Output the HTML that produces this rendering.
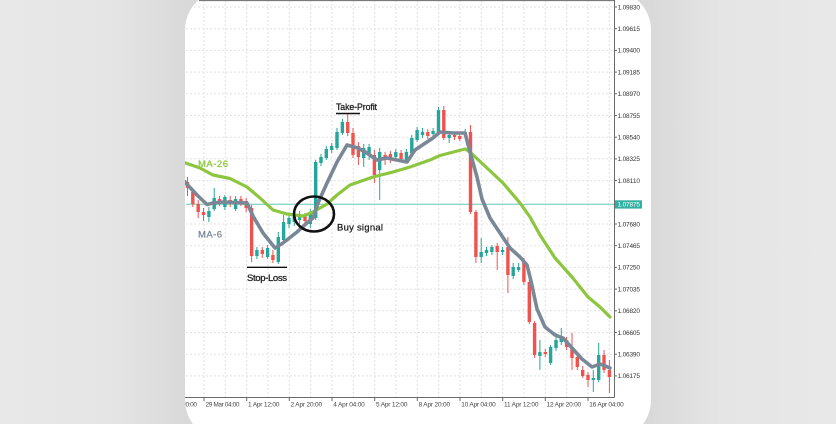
<!DOCTYPE html>
<html><head><meta charset="utf-8"><style>
html,body{margin:0;padding:0}
body{width:836px;height:424px;overflow:hidden;background:linear-gradient(to right,#e8e8e8 0,#e5e5e5 110px,#d9d9d9 185px,#d9d9d9 651px,#e5e5e5 720px,#e8e8e8 836px);position:relative}
svg{position:absolute;left:0;top:0}
</style></head><body>
<svg width="836" height="424" viewBox="0 0 836 424" xmlns="http://www.w3.org/2000/svg">
<defs><clipPath id="c"><rect x="185" y="-10" width="466" height="450" rx="40"/></clipPath></defs>
<rect x="185" y="-10" width="466" height="450" rx="40" fill="#fff"/>
<g clip-path="url(#c)">
<g stroke="#e2e2e2" stroke-width="1" stroke-dasharray="2,2">
<line x1="204" y1="0" x2="204" y2="397"/><line x1="225.3" y1="0" x2="225.3" y2="397"/><line x1="246.7" y1="0" x2="246.7" y2="397"/><line x1="268" y1="0" x2="268" y2="397"/><line x1="289.3" y1="0" x2="289.3" y2="397"/><line x1="310.7" y1="0" x2="310.7" y2="397"/><line x1="332" y1="0" x2="332" y2="397"/><line x1="353.3" y1="0" x2="353.3" y2="397"/><line x1="374.7" y1="0" x2="374.7" y2="397"/><line x1="396" y1="0" x2="396" y2="397"/><line x1="417.3" y1="0" x2="417.3" y2="397"/><line x1="438.7" y1="0" x2="438.7" y2="397"/><line x1="460" y1="0" x2="460" y2="397"/><line x1="481.3" y1="0" x2="481.3" y2="397"/><line x1="502.7" y1="0" x2="502.7" y2="397"/><line x1="524" y1="0" x2="524" y2="397"/><line x1="545.3" y1="0" x2="545.3" y2="397"/><line x1="566.7" y1="0" x2="566.7" y2="397"/><line x1="588" y1="0" x2="588" y2="397"/><line x1="609.3" y1="0" x2="609.3" y2="397"/>
<line x1="186" y1="7" x2="614" y2="7"/><line x1="186" y1="28.7" x2="614" y2="28.7"/><line x1="186" y1="50.4" x2="614" y2="50.4"/><line x1="186" y1="72.1" x2="614" y2="72.1"/><line x1="186" y1="93.8" x2="614" y2="93.8"/><line x1="186" y1="115.5" x2="614" y2="115.5"/><line x1="186" y1="137.2" x2="614" y2="137.2"/><line x1="186" y1="158.9" x2="614" y2="158.9"/><line x1="186" y1="180.6" x2="614" y2="180.6"/><line x1="186" y1="224" x2="614" y2="224"/><line x1="186" y1="245.7" x2="614" y2="245.7"/><line x1="186" y1="267.4" x2="614" y2="267.4"/><line x1="186" y1="289.1" x2="614" y2="289.1"/><line x1="186" y1="310.8" x2="614" y2="310.8"/><line x1="186" y1="332.5" x2="614" y2="332.5"/><line x1="186" y1="354.2" x2="614" y2="354.2"/><line x1="186" y1="375.9" x2="614" y2="375.9"/>
</g>
<line x1="186" y1="204.3" x2="614" y2="204.3" stroke="#8ed5cb" stroke-width="1.3"/>
<g stroke="#ef5350" stroke-width="1">
<line x1="187.5" y1="177" x2="187.5" y2="196"/><line x1="192.8" y1="188" x2="192.8" y2="207"/><line x1="198.2" y1="200" x2="198.2" y2="218"/><line x1="203.5" y1="208" x2="203.5" y2="221"/><line x1="219.5" y1="196" x2="219.5" y2="206"/><line x1="230.2" y1="196" x2="230.2" y2="207"/><line x1="240.9" y1="196" x2="240.9" y2="206"/><line x1="246.2" y1="198" x2="246.2" y2="212"/><line x1="251.6" y1="205" x2="251.6" y2="262"/><line x1="262.3" y1="247" x2="262.3" y2="258"/><line x1="272.9" y1="250" x2="272.9" y2="263"/><line x1="305" y1="213" x2="305" y2="224"/><line x1="347.7" y1="113" x2="347.7" y2="136"/><line x1="353" y1="128" x2="353" y2="158"/><line x1="358.4" y1="142" x2="358.4" y2="165"/><line x1="374.4" y1="150" x2="374.4" y2="183"/><line x1="385.1" y1="152" x2="385.1" y2="165"/><line x1="390.4" y1="151" x2="390.4" y2="163"/><line x1="401.1" y1="150" x2="401.1" y2="162"/><line x1="427.8" y1="129" x2="427.8" y2="139"/><line x1="443.8" y1="106" x2="443.8" y2="140"/><line x1="454.5" y1="133" x2="454.5" y2="140"/><line x1="459.8" y1="133" x2="459.8" y2="141"/><line x1="470.5" y1="125" x2="470.5" y2="214"/><line x1="475.9" y1="210" x2="475.9" y2="263"/><line x1="497.2" y1="243" x2="497.2" y2="270"/><line x1="507.9" y1="237" x2="507.9" y2="293"/><line x1="523.9" y1="258" x2="523.9" y2="285"/><line x1="529.3" y1="280" x2="529.3" y2="324"/><line x1="534.6" y1="321" x2="534.6" y2="358"/><line x1="545.3" y1="349" x2="545.3" y2="357"/><line x1="566.6" y1="337" x2="566.6" y2="350"/><line x1="572" y1="333" x2="572" y2="370"/><line x1="577.3" y1="354" x2="577.3" y2="370"/><line x1="582.7" y1="366" x2="582.7" y2="378"/><line x1="588" y1="372" x2="588" y2="387"/><line x1="604" y1="350" x2="604" y2="373"/><line x1="609.4" y1="360" x2="609.4" y2="393"/>
</g>
<g fill="#ef5350">
<rect x="185.8" y="182" width="3.4" height="6"/><rect x="191.1" y="192" width="3.4" height="12"/><rect x="196.5" y="204" width="3.4" height="8"/><rect x="201.8" y="212" width="3.4" height="3"/><rect x="217.8" y="199" width="3.4" height="4"/><rect x="228.5" y="200" width="3.4" height="3"/><rect x="239.2" y="199" width="3.4" height="4"/><rect x="244.5" y="201" width="3.4" height="7"/><rect x="249.9" y="208" width="3.4" height="48"/><rect x="260.6" y="250" width="3.4" height="4"/><rect x="271.2" y="255" width="3.4" height="5"/><rect x="303.3" y="216" width="3.4" height="5"/><rect x="346" y="122" width="3.4" height="11"/><rect x="351.3" y="133" width="3.4" height="22"/><rect x="356.7" y="146" width="3.4" height="11"/><rect x="372.7" y="155" width="3.4" height="20"/><rect x="383.4" y="155" width="3.4" height="5"/><rect x="388.7" y="154" width="3.4" height="5"/><rect x="399.4" y="153" width="3.4" height="6"/><rect x="426.1" y="132" width="3.4" height="4"/><rect x="442.1" y="110" width="3.4" height="28"/><rect x="452.8" y="135" width="3.4" height="2"/><rect x="458.1" y="136" width="3.4" height="3"/><rect x="468.8" y="132" width="3.4" height="80"/><rect x="474.2" y="212" width="3.4" height="45"/><rect x="495.5" y="246" width="3.4" height="6"/><rect x="506.2" y="247" width="3.4" height="28"/><rect x="522.2" y="262" width="3.4" height="20"/><rect x="527.6" y="282" width="3.4" height="40"/><rect x="532.9" y="323" width="3.4" height="32"/><rect x="543.6" y="352" width="3.4" height="2"/><rect x="564.9" y="340" width="3.4" height="7"/><rect x="570.3" y="347" width="3.4" height="11"/><rect x="575.6" y="357" width="3.4" height="10"/><rect x="581" y="370" width="3.4" height="6"/><rect x="586.3" y="375" width="3.4" height="5"/><rect x="602.3" y="355" width="3.4" height="15"/><rect x="607.7" y="370" width="3.4" height="7"/>
</g>
<g stroke="#26a69a" stroke-width="1">
<line x1="208.9" y1="207" x2="208.9" y2="222"/><line x1="214.2" y1="188" x2="214.2" y2="211"/><line x1="224.9" y1="195" x2="224.9" y2="210"/><line x1="235.6" y1="196" x2="235.6" y2="211"/><line x1="256.9" y1="247" x2="256.9" y2="259"/><line x1="267.6" y1="245" x2="267.6" y2="259"/><line x1="278.3" y1="232" x2="278.3" y2="264"/><line x1="283.6" y1="215" x2="283.6" y2="243"/><line x1="289" y1="214" x2="289" y2="228"/><line x1="294.3" y1="212" x2="294.3" y2="226"/><line x1="299.6" y1="211" x2="299.6" y2="224"/><line x1="310.3" y1="209" x2="310.3" y2="228"/><line x1="315.7" y1="160" x2="315.7" y2="220"/><line x1="321" y1="154" x2="321" y2="166"/><line x1="326.3" y1="146" x2="326.3" y2="160"/><line x1="331.7" y1="143" x2="331.7" y2="153"/><line x1="337" y1="128" x2="337" y2="150"/><line x1="342.4" y1="119" x2="342.4" y2="135"/><line x1="363.7" y1="144" x2="363.7" y2="167"/><line x1="369.1" y1="144" x2="369.1" y2="160"/><line x1="379.7" y1="148" x2="379.7" y2="200"/><line x1="395.8" y1="149" x2="395.8" y2="161"/><line x1="406.4" y1="149" x2="406.4" y2="163"/><line x1="411.8" y1="135" x2="411.8" y2="156"/><line x1="417.1" y1="127" x2="417.1" y2="142"/><line x1="422.5" y1="128" x2="422.5" y2="138"/><line x1="433.1" y1="128" x2="433.1" y2="137"/><line x1="438.5" y1="107" x2="438.5" y2="135"/><line x1="449.2" y1="133" x2="449.2" y2="143"/><line x1="465.2" y1="129" x2="465.2" y2="138"/><line x1="481.2" y1="238" x2="481.2" y2="263"/><line x1="486.5" y1="247" x2="486.5" y2="256"/><line x1="491.9" y1="245" x2="491.9" y2="255"/><line x1="502.6" y1="247" x2="502.6" y2="255"/><line x1="513.2" y1="263" x2="513.2" y2="279"/><line x1="518.6" y1="263" x2="518.6" y2="272"/><line x1="539.9" y1="340" x2="539.9" y2="370"/><line x1="550.6" y1="345" x2="550.6" y2="365"/><line x1="556" y1="333" x2="556" y2="351"/><line x1="561.3" y1="328" x2="561.3" y2="345"/><line x1="593.3" y1="370" x2="593.3" y2="392"/><line x1="598.7" y1="343" x2="598.7" y2="382"/>
</g>
<g fill="#26a69a">
<rect x="207.2" y="211" width="3.4" height="6"/><rect x="212.5" y="198" width="3.4" height="11"/><rect x="223.2" y="197" width="3.4" height="10"/><rect x="233.9" y="199" width="3.4" height="10"/><rect x="255.2" y="250" width="3.4" height="6"/><rect x="265.9" y="248" width="3.4" height="9"/><rect x="276.6" y="237" width="3.4" height="25"/><rect x="281.9" y="222" width="3.4" height="18"/><rect x="287.3" y="218" width="3.4" height="6"/><rect x="292.6" y="216" width="3.4" height="6"/><rect x="297.9" y="214" width="3.4" height="6"/><rect x="308.6" y="212" width="3.4" height="12"/><rect x="314" y="162" width="3.4" height="56"/><rect x="319.3" y="157" width="3.4" height="6"/><rect x="324.6" y="149" width="3.4" height="9"/><rect x="330" y="146" width="3.4" height="4"/><rect x="335.3" y="132" width="3.4" height="16"/><rect x="340.7" y="122" width="3.4" height="11"/><rect x="362" y="148" width="3.4" height="10"/><rect x="367.4" y="147" width="3.4" height="9"/><rect x="378" y="152" width="3.4" height="18"/><rect x="394.1" y="152" width="3.4" height="5"/><rect x="404.7" y="152" width="3.4" height="8"/><rect x="410.1" y="138" width="3.4" height="15"/><rect x="415.4" y="130" width="3.4" height="10"/><rect x="420.8" y="132" width="3.4" height="3"/><rect x="431.4" y="131" width="3.4" height="3"/><rect x="436.8" y="110" width="3.4" height="23"/><rect x="447.5" y="135" width="3.4" height="3"/><rect x="463.5" y="132" width="3.4" height="3"/><rect x="479.5" y="252" width="3.4" height="5"/><rect x="484.8" y="250" width="3.4" height="3"/><rect x="490.2" y="247" width="3.4" height="5"/><rect x="500.9" y="250" width="3.4" height="2"/><rect x="511.5" y="267" width="3.4" height="9"/><rect x="516.9" y="267" width="3.4" height="3"/><rect x="538.2" y="352" width="3.4" height="4"/><rect x="548.9" y="347" width="3.4" height="16"/><rect x="554.3" y="340" width="3.4" height="8"/><rect x="559.6" y="337" width="3.4" height="5"/><rect x="591.6" y="378" width="3.4" height="2"/><rect x="597" y="355" width="3.4" height="25"/>
</g>
<polyline fill="none" stroke="#8cc63f" stroke-width="3.2" stroke-linejoin="round" stroke-linecap="round" points="184,162.5 200,168 213,175 230,178.5 247,187 260,198 273,210 287,214 303,216 313,212 327,204 337,195 350,185 373,177 393,172 410,167 430,160 440,155.5 465,149 470,152 487,168 503,183 520,203 530,217 540,235 555,258 572,277 588,297 600,307 610,317"/>
<polyline fill="none" stroke="#7a8796" stroke-width="3.6" stroke-linejoin="round" stroke-linecap="round" points="184,181 197,195 207,204.5 213,203 223,202 247,203 253,216 263,233 275,248 283,243 297,232 308,222 313,218 318,203 327,183 337,162 347,145 358,148 367,153 377,160 387,158 397,160 407,162 415,150 427,142 433,138 440,132 453,133 465,133 470,152 477,177 482,199 490,218 500,233 510,248 520,257 527,265 531,281 537,309 545,327 555,335 563,338 572,348 582,359 592,367 600,364 610,368"/>
<line x1="199" y1="0.5" x2="614.5" y2="0.5" stroke="#7a7a7a" stroke-width="1.2"/>
<line x1="614.5" y1="0" x2="614.5" y2="397.5" stroke="#6a6a6a" stroke-width="1"/>
<line x1="185" y1="397.5" x2="614.5" y2="397.5" stroke="#6a6a6a" stroke-width="1"/>
<g stroke="#6a6a6a" stroke-width="1">
<line x1="614" y1="7" x2="617" y2="7"/><line x1="614" y1="28.7" x2="617" y2="28.7"/><line x1="614" y1="50.4" x2="617" y2="50.4"/><line x1="614" y1="72.1" x2="617" y2="72.1"/><line x1="614" y1="93.8" x2="617" y2="93.8"/><line x1="614" y1="115.5" x2="617" y2="115.5"/><line x1="614" y1="137.2" x2="617" y2="137.2"/><line x1="614" y1="158.9" x2="617" y2="158.9"/><line x1="614" y1="180.6" x2="617" y2="180.6"/><line x1="614" y1="224" x2="617" y2="224"/><line x1="614" y1="245.7" x2="617" y2="245.7"/><line x1="614" y1="267.4" x2="617" y2="267.4"/><line x1="614" y1="289.1" x2="617" y2="289.1"/><line x1="614" y1="310.8" x2="617" y2="310.8"/><line x1="614" y1="332.5" x2="617" y2="332.5"/><line x1="614" y1="354.2" x2="617" y2="354.2"/><line x1="614" y1="375.9" x2="617" y2="375.9"/>
<line x1="204" y1="397" x2="204" y2="401"/><line x1="246.7" y1="397" x2="246.7" y2="401"/><line x1="289.3" y1="397" x2="289.3" y2="401"/><line x1="332" y1="397" x2="332" y2="401"/><line x1="374.7" y1="397" x2="374.7" y2="401"/><line x1="417.3" y1="397" x2="417.3" y2="401"/><line x1="460" y1="397" x2="460" y2="401"/><line x1="502.7" y1="397" x2="502.7" y2="401"/><line x1="545.3" y1="397" x2="545.3" y2="401"/><line x1="588" y1="397" x2="588" y2="401"/>
</g>
<g font-family="Liberation Sans, sans-serif" font-size="6.5" fill="#333">
<text x="617.5" y="9.3" textLength="22.5">1.09830</text>
<text x="617.5" y="31" textLength="22.5">1.09615</text>
<text x="617.5" y="52.7" textLength="22.5">1.09400</text>
<text x="617.5" y="74.4" textLength="22.5">1.09185</text>
<text x="617.5" y="96.1" textLength="22.5">1.08970</text>
<text x="617.5" y="117.8" textLength="22.5">1.08755</text>
<text x="617.5" y="139.5" textLength="22.5">1.08540</text>
<text x="617.5" y="161.2" textLength="22.5">1.08325</text>
<text x="617.5" y="182.9" textLength="22.5">1.08110</text>
<text x="617.5" y="226.3" textLength="22.5">1.07680</text>
<text x="617.5" y="248" textLength="22.5">1.07465</text>
<text x="617.5" y="269.7" textLength="22.5">1.07250</text>
<text x="617.5" y="291.4" textLength="22.5">1.07035</text>
<text x="617.5" y="313.1" textLength="22.5">1.06820</text>
<text x="617.5" y="334.8" textLength="22.5">1.06605</text>
<text x="617.5" y="356.5" textLength="22.5">1.06390</text>
<text x="617.5" y="378.2" textLength="22.5">1.06175</text>
</g>
<rect x="615" y="200.3" width="27" height="8.3" fill="#33b0a2"/>
<text x="617.5" y="206.7" textLength="22.5" font-family="Liberation Sans, sans-serif" font-size="6.5" fill="#fff">1.07875</text>
<g font-family="Liberation Sans, sans-serif" font-size="6.5" fill="#444">
<text x="163" y="406.5" textLength="34">28 Mar 20:00</text>
<text x="205.5" y="406.5" textLength="34">29 Mar 04:00</text>
<text x="248" y="406.5" textLength="31.5">1 Apr 12:00</text>
<text x="290.6" y="406.5" textLength="31.5">2 Apr 20:00</text>
<text x="333.3" y="406.5" textLength="31.5">4 Apr 04:00</text>
<text x="376" y="406.5" textLength="31.5">5 Apr 12:00</text>
<text x="418.6" y="406.5" textLength="31.5">8 Apr 20:00</text>
<text x="461.3" y="406.5" textLength="34.5">10 Apr 04:00</text>
<text x="504" y="406.5" textLength="34.5">11 Apr 12:00</text>
<text x="546.6" y="406.5" textLength="34.5">12 Apr 20:00</text>
<text x="589.3" y="406.5" textLength="34.5">16 Apr 04:00</text>
</g>
<ellipse cx="314" cy="214" rx="20" ry="17.5" fill="none" stroke="#111" stroke-width="2.6"/>
<g font-family="Liberation Sans, sans-serif" font-size="9.5" stroke-width="0.25">
<text x="198" y="167" textLength="30" fill="#8cc63f" stroke="#8cc63f">MA-26</text>
<text x="198" y="237.5" textLength="24" fill="#7a8796" stroke="#7a8796">MA-6</text>
<text x="247" y="281" textLength="40" fill="#1a1a1a" stroke="#1a1a1a">Stop-Loss</text>
<text x="336" y="110" font-size="8.8" textLength="41" fill="#1a1a1a" stroke="#1a1a1a">Take-Profit</text>
<text x="337" y="230.5" textLength="46" fill="#1a1a1a" stroke="#1a1a1a">Buy signal</text>
</g>
<line x1="247" y1="267.3" x2="287" y2="267.3" stroke="#111" stroke-width="1.4"/>
<line x1="336" y1="113.5" x2="360" y2="113.5" stroke="#111" stroke-width="1.4"/>
</g>
</svg>
</body></html>
